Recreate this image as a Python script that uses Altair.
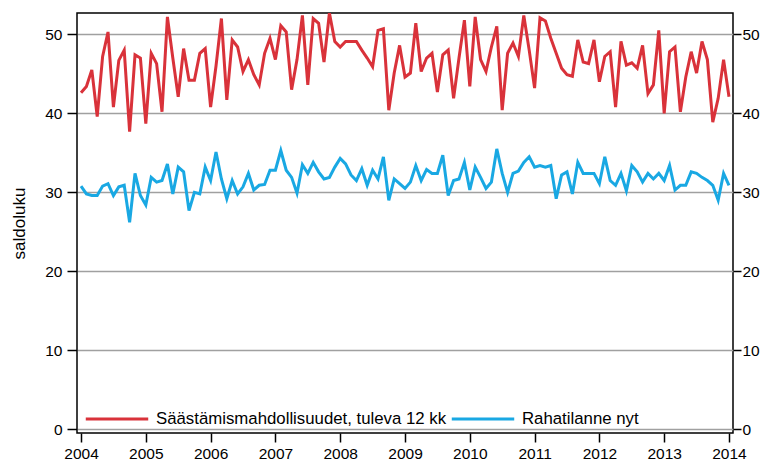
import altair as alt
import pandas as pd

years = list(range(2004, 2015))
y_ticks = [0, 10, 20, 30, 40, 50]

S1 = "Säästämismahdollisuudet, tuleva 12 kk"
S2 = "Rahatilanne nyt"

saasto = [42.6, 43.4, 45.5, 39.6, 47.2, 50.3, 40.8, 46.7, 48.0, 37.7, 47.4, 47.0,
          38.7, 47.6, 46.3, 40.2, 52.2, 47.0, 42.1, 48.2, 44.2, 44.2, 47.6, 48.2,
          40.8, 46.0, 52.0, 41.7, 49.3, 48.4, 45.3, 46.8, 44.9, 43.6, 47.6, 49.5,
          46.8, 51.1, 50.3, 43.0, 46.8, 52.4, 43.6, 52.0, 51.4, 46.5, 52.7, 49.1,
          48.4, 49.1, 49.1, 49.1, 48.0, 47.0, 45.9, 50.5, 50.7, 40.4, 45.1, 48.6,
          44.6, 45.1, 51.4, 45.3, 47.0, 47.6, 42.7, 47.4, 48.0, 41.9, 47.0, 51.8,
          43.4, 52.2, 46.8, 45.3, 48.4, 51.0, 40.4, 47.6, 48.9, 47.2, 52.4, 48.0,
          43.2, 52.1, 51.7, 49.5, 47.6, 45.7, 44.9, 44.7, 49.3, 46.5, 46.3, 49.3,
          44.0, 47.2, 47.8, 40.8, 49.1, 46.1, 46.4, 45.7, 48.6, 42.5, 43.6, 50.5,
          40.0, 47.8, 48.4, 40.2, 44.6, 47.8, 45.1, 49.1, 46.8, 38.9, 41.9, 46.8,
          42.1]

raha = [30.8, 29.8, 29.6, 29.6, 30.8, 31.1, 29.6, 30.7, 30.9, 26.2, 32.4, 29.6,
        28.4, 31.9, 31.3, 31.5, 33.6, 29.8, 33.2, 32.6, 27.7, 30.0, 29.8, 33.2,
        31.5, 35.1, 31.7, 29.2, 31.5, 29.8, 30.7, 32.4, 30.3, 30.9, 31.0, 32.8,
        32.8, 35.3, 32.8, 31.9, 29.9, 33.5, 32.4, 33.8, 32.6, 31.7, 31.9, 33.2,
        34.3, 33.6, 32.2, 31.5, 33.0, 30.9, 32.8, 31.7, 34.5, 29.0, 31.7, 31.1,
        30.5, 31.3, 33.4, 31.5, 32.9, 32.4, 32.4, 34.7, 29.6, 31.5, 31.7, 33.8,
        30.3, 33.2, 31.9, 30.5, 31.3, 35.5, 32.4, 30.0, 32.4, 32.7, 33.8, 34.5,
        33.2, 33.4, 33.2, 33.4, 29.2, 32.2, 32.6, 29.8, 33.8, 32.4, 32.4, 32.4,
        31.1, 34.5, 31.5, 30.9, 32.4, 30.2, 33.4, 32.6, 31.3, 32.4, 31.7, 32.4,
        31.5, 33.4, 30.3, 30.9, 30.9, 32.6, 32.4, 31.9, 31.5, 30.9, 29.0, 32.4,
        30.9]

n = len(saasto)
months = [2004 + i / 12 for i in range(n)]

df = pd.DataFrame({
    "t": months + months,
    "v": saasto + raha,
    "s": [S1] * n + [S2] * n,
})

FONT = "Liberation Sans"
xscale = alt.Scale(domain=[2003.938, 2014.062], nice=False, zero=False)
yscale = alt.Scale(domain=[-0.45, 52.7], nice=False, zero=False)

x_enc = alt.X("t:Q", scale=xscale, axis=alt.Axis(
    values=years, format="d", title=None, grid=False, tickSize=9,
    labelPadding=4, labelFont=FONT, labelFontSize=15.5, labelColor="#000000",
    domain=False, tickColor="#000000", tickWidth=1.5))

color = alt.Color(
    "s:N",
    scale=alt.Scale(domain=[S1, S2], range=["#d9323a", "#19a8e3"]),
    legend=alt.Legend(
        title=None, orient="none", legendX=7, legendY=373, direction="horizontal",
        symbolType="stroke", symbolSize=3900, symbolStrokeWidth=3,
        labelFont=FONT, labelFontSize=16.8, labelColor="#000000",
        labelOffset=6, columnPadding=-2, padding=0, labelLimit=500,
    ),
)

lines = alt.Chart(df).mark_line(strokeWidth=3, clip=True).encode(
    x=x_enc,
    y=alt.Y("v:Q", scale=yscale, axis=alt.Axis(
        orient="left", values=y_ticks, title="saldoluku", grid=True,
        gridColor="#a0a0a0", gridWidth=1.5, gridOpacity=1,
        tickSize=10, labelPadding=5, labelFont=FONT, labelFontSize=15.5,
        labelColor="#000000", titleFont=FONT, titleFontSize=17,
        titleFontWeight="normal", titleColor="#000000", titlePadding=16,
        domain=False, tickColor="#000000", tickWidth=1.5)),
    color=color,
)

right = alt.Chart(df).mark_line(opacity=0).encode(
    x=x_enc,
    y=alt.Y("v:Q", scale=yscale, axis=alt.Axis(
        orient="right", values=y_ticks, title=None, grid=False,
        tickSize=8, labelPadding=1, labelFont=FONT, labelFontSize=15.5,
        labelColor="#000000", domain=False, tickColor="#000000", tickWidth=1.5)),
    detail="s:N",
)

chart = alt.layer(lines, right).resolve_axis(y="independent").properties(
    width=656, height=420,
    autosize=alt.AutoSizeParams(type="none"),
    padding={"left": 69, "top": 5, "right": 27, "bottom": 27},
).configure_view(stroke="#000000", strokeWidth=1.5)

chart.save("out.html", embed_options={"renderer": "svg", "actions": False})
